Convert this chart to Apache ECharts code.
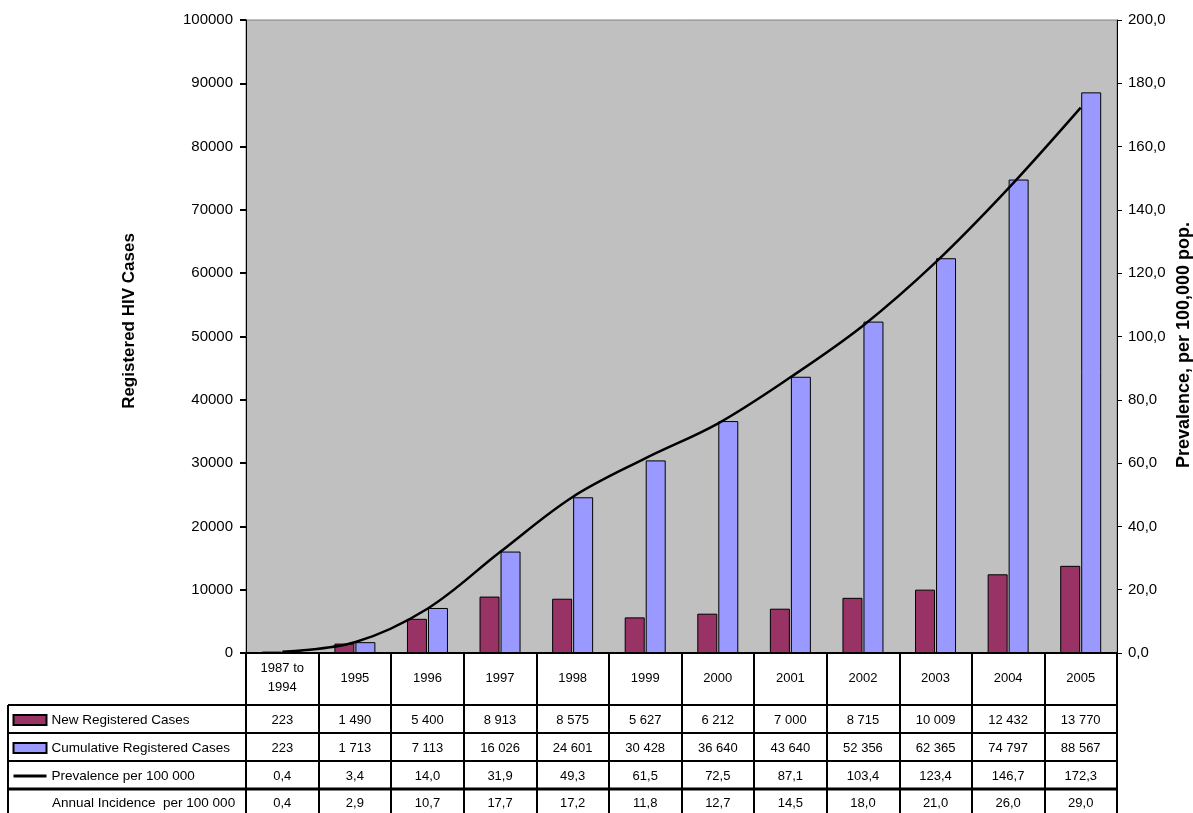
<!DOCTYPE html>
<html>
<head>
<meta charset="utf-8">
<script src="https://cdn.jsdelivr.net/npm/echarts@6/dist/echarts.min.js"></script>
<style>
  html, body { margin: 0; padding: 0; background: #ffffff; }
  #chart { width: 1193px; height: 813px; }
</style>
</head>
<body>
<div id="chart"></div>
<script>
// Registered HIV cases by year, with prevalence and annual incidence per 100 000
const categories = ['1987 to\n1994', '1995', '1996', '1997', '1998', '1999', '2000', '2001', '2002', '2003', '2004', '2005'];
const newCases = [223, 1490, 5400, 8913, 8575, 5627, 6212, 7000, 8715, 10009, 12432, 13770];
const cumulativeCases = [223, 1713, 7113, 16026, 24601, 30428, 36640, 43640, 52356, 62365, 74797, 88567];
const prevalence = [0.4, 3.4, 14.0, 31.9, 49.3, 61.5, 72.5, 87.1, 103.4, 123.4, 146.7, 172.3];
const annualIncidence = [0.4, 2.9, 10.7, 17.7, 17.2, 11.8, 12.7, 14.5, 18.0, 21.0, 26.0, 29.0];

const leftAxisMax = 100000;
const leftAxisStep = 10000;
const rightAxisMax = 200;
const rightAxisStep = 20;

const seriesNames = ['New Registered Cases', 'Cumulative Registered Cases', 'Prevalence per 100 000'];
const incidenceLabel = 'Annual Incidence  per 100 000';
const leftAxisTitle = 'Registered HIV Cases';
const rightAxisTitle = 'Prevalence, per 100,000 pop.';

const FONT = '"Liberation Sans", Arial, sans-serif';
const fmtInt = v => String(v).replace(/\B(?=(\d{3})+(?!\d))/g, ' ');
const fmtDec = v => v.toFixed(1).replace('.', ',');

const chart = echarts.init(document.getElementById('chart'), null, { renderer: 'canvas' });

// plot frame
const G = { left: 246, right: 76, top: 20, bottom: 160 };
const tableRight = 1193 - G.right;

chart.setOption({
  animation: false,
  backgroundColor: '#ffffff',
  textStyle: { fontFamily: FONT },
  grid: {
    left: G.left, right: G.right, top: G.top, bottom: G.bottom,
    show: true, backgroundColor: '#C0C0C0', borderColor: '#808080', borderWidth: 1
  },
  legend: {
    orient: 'vertical', left: 7, top: 708,
    itemWidth: 33, itemHeight: 10, itemGap: 14,
    selectedMode: false,
    textStyle: { fontSize: 13.5, lineHeight: 14, color: '#000', fontFamily: FONT },
    data: [
      { name: seriesNames[0], icon: 'rect' },
      { name: seriesNames[1], icon: 'rect' },
      { name: seriesNames[2], itemStyle: { color: 'rgba(0,0,0,0)', borderColor: 'rgba(0,0,0,0)', borderWidth: 0 },
        lineStyle: { color: '#000', width: 3 } }
    ]
  },
  xAxis: {
    type: 'category',
    data: categories,
    boundaryGap: true,
    axisLine: { lineStyle: { color: '#000', width: 2 } },
    axisTick: { show: true, interval: 0, length: G.bottom, lineStyle: { color: '#000', width: 2 } },
    axisLabel: {
      interval: 0, margin: 25, verticalAlign: 'middle', lineHeight: 19,
      fontSize: 13, color: '#000', fontFamily: FONT
    },
    splitLine: { show: false }
  },
  yAxis: [
    {
      type: 'value', min: 0, max: leftAxisMax, interval: leftAxisStep,
      axisLine: { show: true, lineStyle: { color: '#000', width: 1 } },
      axisTick: { show: true, length: 6, lineStyle: { color: '#000', width: 2 } },
      axisLabel: { fontSize: 15, color: '#000', margin: 13, fontFamily: FONT, formatter: v => String(v) },
      splitLine: { show: false }
    },
    {
      type: 'value', min: 0, max: rightAxisMax, interval: rightAxisStep,
      position: 'right',
      axisLine: { show: true, lineStyle: { color: '#000', width: 1 } },
      axisTick: { show: true, length: 5, lineStyle: { color: '#000', width: 1 } },
      axisLabel: { fontSize: 15, color: '#000', margin: 11, fontFamily: FONT, formatter: v => fmtDec(v) },
      splitLine: { show: false }
    }
  ],
  series: [
    {
      name: seriesNames[0], type: 'bar', data: newCases,
      barWidth: 20, barGap: '5%',
      itemStyle: { color: '#993366', borderColor: '#000', borderWidth: 1 }
    },
    {
      name: seriesNames[1], type: 'bar', data: cumulativeCases,
      barWidth: 20,
      itemStyle: { color: '#9999FF', borderColor: '#000', borderWidth: 1 }
    },
    {
      name: seriesNames[2], type: 'line', yAxisIndex: 1, data: prevalence,
      smooth: 0.35, symbol: 'none', z: 5,
      lineStyle: { color: '#000', width: 2.5 },
      itemStyle: { color: '#000' }
    }
  ]
});

// data table under the category axis
const rowLines = [705, 733, 761, 789];
const rowCenters = [720, 748, 776, 803];
const rows = [
  newCases.map(fmtInt),
  cumulativeCases.map(fmtInt),
  prevalence.map(fmtDec),
  annualIncidence.map(fmtDec)
];

const graphics = [];
rowLines.forEach((y, i) => {
  graphics.push({
    type: 'line', silent: true, z: 10,
    shape: { x1: 8, y1: y, x2: tableRight, y2: y },
    style: { stroke: '#000', lineWidth: i === 3 ? 3 : 2 }
  });
});
graphics.push({
  type: 'line', silent: true, z: 10,
  shape: { x1: 8, y1: rowLines[0], x2: 8, y2: 813 },
  style: { stroke: '#000', lineWidth: 2 }
});

rows.forEach((vals, r) => {
  vals.forEach((txt, c) => {
    const cx = chart.convertToPixel({ xAxisIndex: 0 }, c);
    graphics.push({
      type: 'text', silent: true, z: 10,
      x: cx, y: rowCenters[r],
      style: {
        text: txt, textAlign: 'center', textVerticalAlign: 'middle',
        font: '13px ' + FONT, fill: '#000'
      }
    });
  });
});

graphics.push({
  type: 'text', silent: true, z: 10,
  x: 52, y: rowCenters[3],
  style: { text: incidenceLabel, textAlign: 'left', textVerticalAlign: 'middle', font: '13.5px ' + FONT, fill: '#000' }
});

// axis titles
graphics.push({
  type: 'text', silent: true, x: 129, y: 321, rotation: Math.PI / 2,
  style: { text: leftAxisTitle, textAlign: 'center', textVerticalAlign: 'middle', font: 'bold 17px ' + FONT, fill: '#000' }
});
graphics.push({
  type: 'text', silent: true, x: 1184, y: 345, rotation: Math.PI / 2,
  style: { text: rightAxisTitle, textAlign: 'center', textVerticalAlign: 'middle', font: 'bold 18px ' + FONT, fill: '#000' }
});

chart.setOption({ graphic: graphics });
</script>
</body>
</html>
